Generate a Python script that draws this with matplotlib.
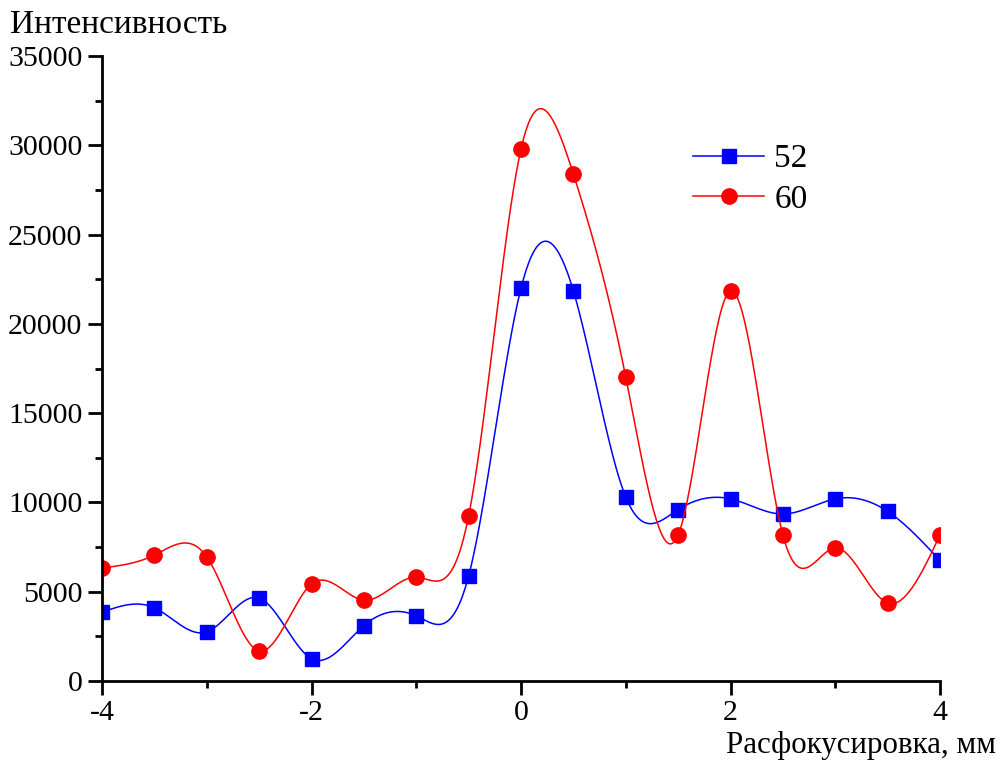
import numpy as np
import matplotlib
matplotlib.use("Agg")
import matplotlib.pyplot as plt
from matplotlib.ticker import MultipleLocator

x_vals = [-4, -3.5, -3, -2.5, -2, -1.5, -1, -0.5, 0, 0.5, 1, 1.5, 2, 2.5, 3, 3.5, 4]
s52 = [3850, 4100, 2750, 4650, 1250, 3100, 3650, 5880, 22000, 21850, 10300, 9600, 10200, 9350, 10200, 9500, 6750]
s60 = [6330, 7050, 6950, 1680, 5430, 4530, 5820, 9240, 29790, 28390, 17020, 8180, 21840, 8180, 7450, 4370, 8180]
labels = ["52", "60"]
x_label = "Расфокусировка, мм"
y_label = "Интенсивность"


def natural_spline(x, y, n=600):
    x = np.asarray(x, float)
    y = np.asarray(y, float)
    m = len(x)
    h = np.diff(x)
    A = np.zeros((m, m))
    b = np.zeros(m)
    A[0, 0] = 1
    A[-1, -1] = 1
    for i in range(1, m - 1):
        A[i, i - 1] = h[i - 1]
        A[i, i] = 2 * (h[i - 1] + h[i])
        A[i, i + 1] = h[i]
        b[i] = 3 * ((y[i + 1] - y[i]) / h[i] - (y[i] - y[i - 1]) / h[i - 1])
    c = np.linalg.solve(A, b)
    bb = (y[1:] - y[:-1]) / h - h * (2 * c[:-1] + c[1:]) / 3
    d = (c[1:] - c[:-1]) / (3 * h)
    xs = np.linspace(x[0], x[-1], n)
    idx = np.clip(np.searchsorted(x, xs) - 1, 0, m - 2)
    dx = xs - x[idx]
    ys = y[idx] + bb[idx] * dx + c[idx] * dx ** 2 + d[idx] * dx ** 3
    return xs, ys


plt.rcParams['font.family'] = ['Liberation Serif', 'DejaVu Serif']
plt.rcParams['axes.unicode_minus'] = False

fig = plt.figure(figsize=(10, 7.62), dpi=100)
ax = fig.add_axes([0.102, 0.1063, 0.838, 0.8202])

styles = [dict(color='#0000ff', marker='s', ms=9.5), dict(color='#ff0000', marker='o', ms=11)]
for ys, lab, st in zip([s52, s60], labels, styles):
    xs, yy = natural_spline(x_vals, ys)
    ax.plot(xs, yy, color=st['color'], lw=1.1)
    ax.plot(x_vals, ys, linestyle='none', marker=st['marker'], ms=st['ms'],
            color=st['color'], mec=st['color'])
    ax.plot([], [], color=st['color'], lw=1.1, marker=st['marker'], ms=st['ms'], label=lab)

ax.set_xlim(-4, 4)
ax.set_ylim(0, 35000)
ax.xaxis.set_major_locator(MultipleLocator(2))
ax.xaxis.set_minor_locator(MultipleLocator(1))
ax.yaxis.set_major_locator(MultipleLocator(5000))
ax.yaxis.set_minor_locator(MultipleLocator(2500))
for s in ['top', 'right']:
    ax.spines[s].set_visible(False)
for s in ['left', 'bottom']:
    ax.spines[s].set_linewidth(2)
ax.tick_params(which='major', direction='out', length=10, width=2, labelsize=21.5, pad=4)
ax.tick_params(which='minor', direction='out', length=5, width=2)

fig.text(0.010, 0.967, y_label, fontsize=24, ha='left', va='center')
fig.text(0.996, 0.022, x_label, fontsize=22.3, ha='right', va='center')

leg = ax.legend(loc='upper left', bbox_to_anchor=(0.685, 0.886), frameon=False,
                fontsize=24, handlelength=2.15, handletextpad=0.3, labelspacing=0.3,
                borderpad=0)

fig.savefig('out.png', dpi=100)
